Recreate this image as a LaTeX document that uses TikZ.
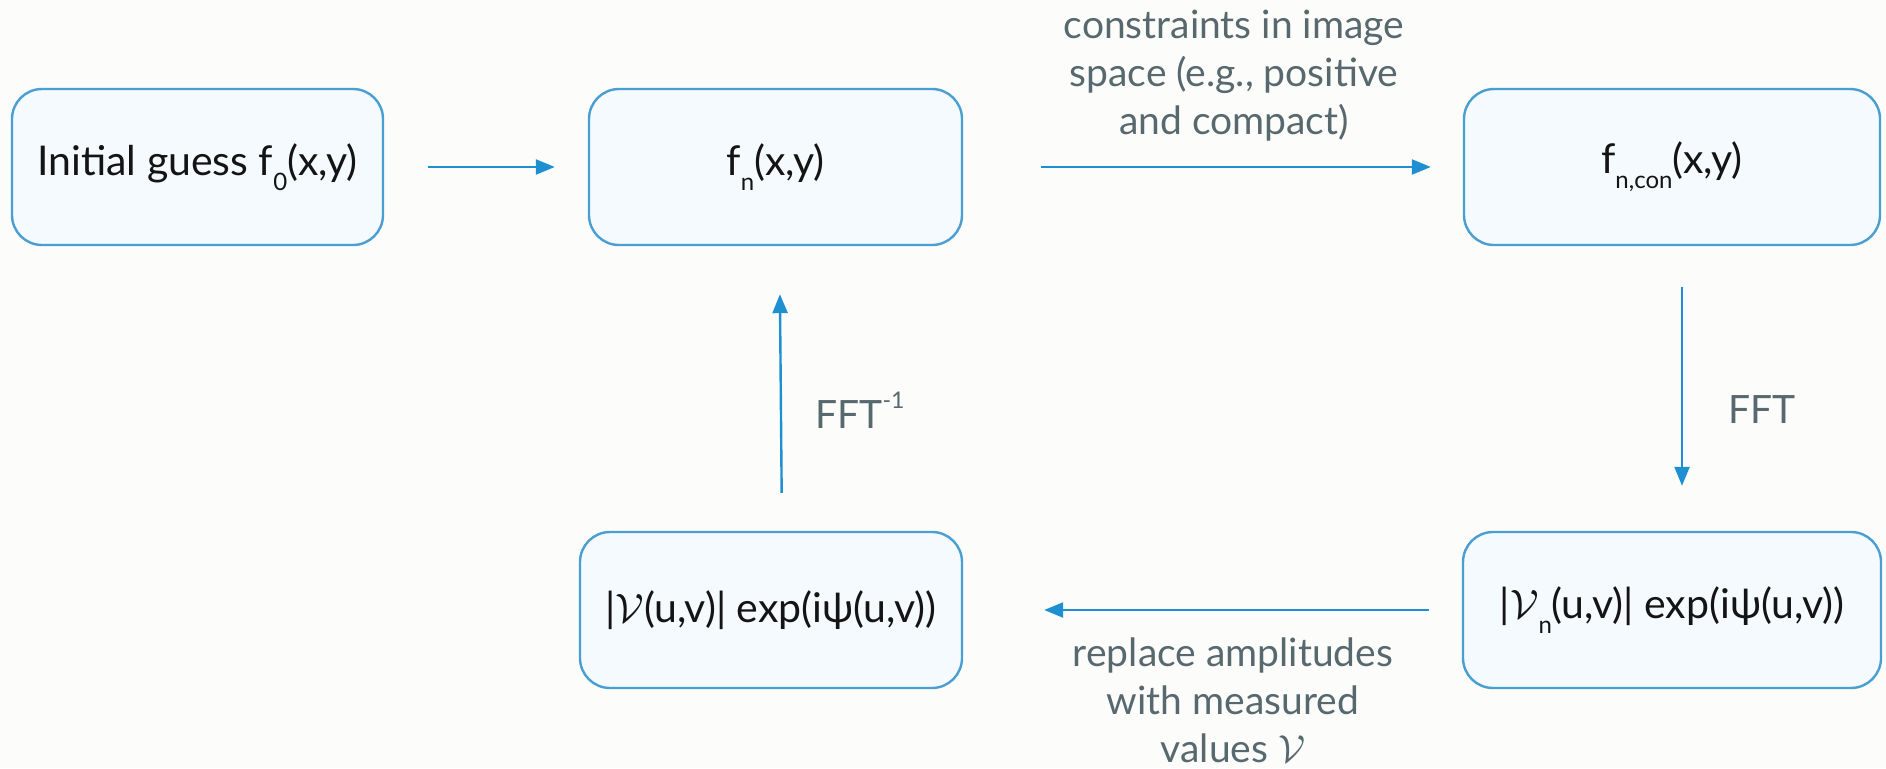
\RequirePackage{fix-cm}
\documentclass[tikz,border=0pt]{standalone}
\usepackage{fontspec}
\setmainfont{Lato}
\usetikzlibrary{arrows.meta}
\definecolor{bgpaper}{HTML}{FCFDFA}
\definecolor{boxedge}{HTML}{4A9FD2}
\definecolor{boxfill}{HTML}{F4FAFE}
\definecolor{flow}{HTML}{1E90D2}
\definecolor{note}{HTML}{58686F}
% lowered and raised small indices, as set in the boxes
\newcommand{\lowidx}[1]{\raisebox{-0.36em}{\fontsize{24}{24}\selectfont #1}}
\newcommand{\highidx}[1]{\raisebox{0.5em}{\fontsize{23}{23}\selectfont #1}}
\tikzset{
  stage/.style={draw=boxedge, fill=boxfill, line width=2.4pt, rounded corners=30pt,
    minimum height=156pt, inner sep=0pt, font=\fontsize{41}{49}\selectfont, text=black!92},
  flowarrow/.style={draw=flow, line width=2.4pt, -{Triangle[length=19pt,width=15pt]}},
  remark/.style={text=note, font=\fontsize{39}{48}\selectfont, align=center}
}
\begin{document}
\begin{tikzpicture}[x=1pt,y=-1pt]
  \fill[bgpaper] (0,0) rectangle (1886,768);
  \useasboundingbox (0,0) rectangle (1886,768);

  \node[stage, minimum width=371pt] (guess) at (197.5,167) {Initial guess f\lowidx{0}(x,y)};
  \node[stage, minimum width=373pt] (fn) at (775.5,167) {f\lowidx{n}(x,y)};
  \node[stage, minimum width=416pt] (fcon) at (1672,167) {f\lowidx{n,con}(x,y)};
  \node[stage, minimum width=418pt] (vn) at (1672,610) {|$\mathcal{V}$\lowidx{n}(u,v)| exp(iψ(u,v))};
  \node[stage, minimum width=382pt] (vm) at (771,610) {|$\mathcal{V}$(u,v)| exp(iψ(u,v))};

  \draw[flowarrow, shorten <=44pt, shorten >=33pt] (guess.east) -- (fn.west);
  \draw[flowarrow, shorten <=78pt, shorten >=32pt] (fn.east) -- (fcon.west);
  \draw[flowarrow, shorten <=41pt, shorten >=45pt] ([xshift=10pt]fcon.south) -- ([xshift=10pt]vn.north);
  \draw[flowarrow, shorten <=33pt, shorten >=81pt] (vn.west) -- (vm.east);
  \draw[flowarrow, shorten <=38pt, shorten >=48pt] ([xshift=11pt]vm.north) -- ([xshift=4pt]fn.south);

  \node[remark] (ctext) at (1234,76) {constraints in image\\space (e.g., positive\\and compact)};
  \node[remark] (fft) at (1762,410) {FFT};
  \node[remark] (ifft) at (860,410) {FFT\highidx{-1}};
  \node[remark] (rtext) at (1233,700) {replace amplitudes\\with measured\\values $\mathcal{V}$};
\end{tikzpicture}
\end{document}
